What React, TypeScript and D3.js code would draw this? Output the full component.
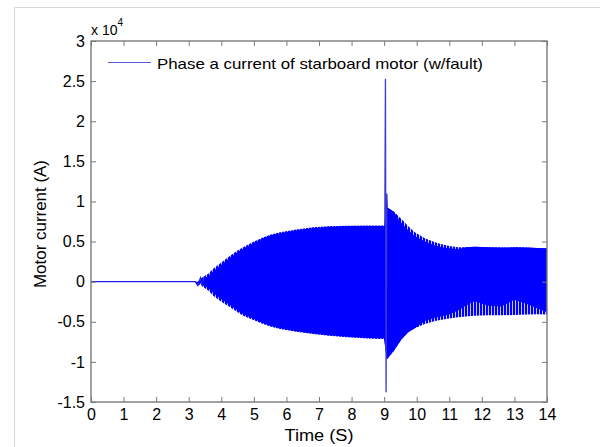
import React, { useEffect, useRef } from "react";
import * as d3 from "d3";

// envelope of the phase-a current (A)
const timeS = [0, 3.2, 3.28, 3.36, 3.45, 3.6, 3.75, 4.0, 4.27, 4.5, 4.67, 5.0, 5.28, 5.5, 5.8, 6.3, 6.82, 7.3, 7.86, 8.5, 9.0, 9.08, 9.3, 9.53, 9.74, 9.94, 10.25, 10.56, 10.77, 11.0, 11.27, 11.5, 11.78, 12.2, 12.6, 13.0, 13.4, 13.7, 14];
const upperA = [0, 0, 0, 400, 600, 1000, 1600, 2400, 3240, 3900, 4280, 5000, 5520, 5850, 6150, 6500, 6770, 6900, 6980, 7000, 7000, 9300, 8700, 7800, 6900, 6150, 5400, 4900, 4650, 4450, 4300, 4300, 4360, 4300, 4250, 4280, 4250, 4200, 4150];
const lowerA = [0, 0, -500, -300, -700, -1100, -1750, -2500, -3200, -3800, -4240, -4800, -5280, -5600, -5900, -6250, -6520, -6750, -6940, -7080, -7150, -9700, -8600, -7200, -6320, -5800, -5280, -4900, -4740, -4600, -4450, -4350, -4250, -4200, -4200, -4150, -4100, -4050, -4100];
// where the oscillation is dense enough to look solid
const upperSolidA = [0, 0, 0, 300, 400, 700, 1300, 2100, 3000, 3700, 4100, 4850, 5400, 5750, 6050, 6420, 6700, 6840, 6930, 6950, 6950, 9300, 8700, 7300, 6400, 5700, 5000, 4500, 4300, 4150, 4050, 4300, 4360, 4300, 4250, 4280, 4250, 4200, 4150];
const lowerSolidA = [0, 0, -500, -200, -500, -800, -1400, -2200, -2950, -3600, -4050, -4650, -5150, -5500, -5820, -6180, -6450, -6690, -6880, -7020, -7100, -9700, -8600, -7200, -6320, -5800, -4900, -4500, -4300, -4100, -3600, -3000, -2450, -3000, -3100, -2250, -2800, -3300, -3800];

// the small wiggle at start-up and the fault transient
const onsetTime = [0, 3.2, 3.28, 3.36, 3.42, 3.48];
const onsetA = [0, 0, -500, 500, -600, 700];
const faultTime = [9.02, 9.04, 9.06, 9.08, 9.1];
const faultA = [7000, 25300, -13800, 11000, 9300];

const xTicks = [0, 1, 2, 3, 4, 5, 6, 7, 8, 9, 10, 11, 12, 13, 14];
const yTicks = [-15000, -10000, -5000, 0, 5000, 10000, 15000, 20000, 25000, 30000];

const legendLabel = "Phase a current of starboard motor (w/fault)";
const FONT = "'Liberation Sans', Arial, Helvetica, sans-serif";

const W = 600;
const H = 447;
const margin = { left: 91, right: 53, top: 41, bottom: 45 };

const App = () => {
  const svgRef = useRef<SVGSVGElement>(null);

  useEffect(() => {
    const svg = d3.select(svgRef.current);
    svg.selectAll("*").remove();

    const x = d3.scaleLinear().domain([0, 14]).range([margin.left, W - margin.right]);
    const y = d3.scaleLinear().domain([-15000, 30000]).range([H - margin.bottom, margin.top]);

    // faint frame of the screenshot
    svg.append("path")
      .attr("d", `M14.5,${H}V7.5H${W}`)
      .attr("fill", "none")
      .attr("stroke", "#d6d6d6");

    const defs = svg.append("defs");
    const pat = defs.append("pattern")
      .attr("id", "stripes")
      .attr("patternUnits", "userSpaceOnUse")
      .attr("width", 3)
      .attr("height", 10);
    pat.append("rect").attr("width", 3).attr("height", 10).attr("fill", "#c4c6ef");
    pat.append("rect").attr("width", 2).attr("height", 10).attr("fill", "#0000ff");

    const idx = d3.range(timeS.length);

    const outer = d3.area<number>()
      .x((i) => x(timeS[i]))
      .y0((i) => y(lowerA[i]))
      .y1((i) => y(upperA[i]));
    const solid = d3.area<number>()
      .x((i) => x(timeS[i]))
      .y0((i) => y(lowerSolidA[i]))
      .y1((i) => y(upperSolidA[i]));

    svg.append("path").attr("d", outer(idx)).attr("fill", "url(#stripes)");
    svg.append("path").attr("d", solid(idx)).attr("fill", "#0000ff");

    const line = d3.line<number>();
    svg.append("path")
      .attr("d", line(onsetTime.map((t, i) => [x(t), y(onsetA[i])])))
      .attr("fill", "none")
      .attr("stroke", "#2020ee")
      .attr("stroke-width", 1.2);
    svg.append("path")
      .attr("d", line(faultTime.map((t, i) => [x(t), y(faultA[i])])))
      .attr("fill", "none")
      .attr("stroke", "#3a3ad8")
      .attr("stroke-width", 1.3);

    // axes, MATLAB style: ticks inside on all four sides
    const axisColor = "#7a7a7a";
    const styleAxis = (g) => {
      g.select(".domain").remove();
      g.selectAll("line").attr("stroke", axisColor);
      g.selectAll("text")
        .attr("fill", "#000")
        .style("font-family", FONT)
        .style("font-size", "16px");
    };

    svg.append("g")
      .attr("transform", `translate(0,${H - margin.bottom})`)
      .call(d3.axisBottom(x).tickValues(xTicks).tickSize(-5).tickPadding(7).tickFormat((d) => String(d)))
      .call(styleAxis);
    svg.append("g")
      .attr("transform", `translate(0,${margin.top})`)
      .call(d3.axisTop(x).tickValues(xTicks).tickSize(-5).tickFormat(() => ""))
      .call(styleAxis);
    svg.append("g")
      .attr("transform", `translate(${margin.left},0)`)
      .call(d3.axisLeft(y).tickValues(yTicks).tickSize(-5).tickPadding(6).tickFormat((d) => String(+d / 10000)))
      .call(styleAxis);
    svg.append("g")
      .attr("transform", `translate(${W - margin.right},0)`)
      .call(d3.axisRight(y).tickValues(yTicks).tickSize(-5).tickFormat(() => ""))
      .call(styleAxis);

    svg.append("rect")
      .attr("x", margin.left)
      .attr("y", margin.top)
      .attr("width", W - margin.right - margin.left)
      .attr("height", H - margin.bottom - margin.top)
      .attr("fill", "none")
      .attr("stroke", axisColor)
      .attr("stroke-width", 1.4);

    // exponent label
    const expo = svg.append("text")
      .attr("x", 91)
      .attr("y", 34.5)
      .style("font-family", FONT)
      .style("font-size", "14px");
    expo.append("tspan").text("x 10");
    expo.append("tspan").attr("dy", -9).style("font-size", "10px").text("4");

    // legend
    svg.append("line")
      .attr("x1", 108).attr("x2", 151)
      .attr("y1", 62.5).attr("y2", 62.5)
      .attr("stroke", "#5a5ad8")
      .attr("stroke-width", 1);
    svg.append("text")
      .attr("x", 157)
      .attr("y", 68.5)
      .attr("textLength", 326)
      .attr("lengthAdjust", "spacingAndGlyphs")
      .style("font-family", FONT)
      .style("font-size", "15px")
      .text(legendLabel);

    // axis titles
    svg.append("text")
      .attr("x", (margin.left + W - margin.right) / 2)
      .attr("y", 441)
      .attr("text-anchor", "middle")
      .attr("textLength", 69)
      .attr("lengthAdjust", "spacingAndGlyphs")
      .style("font-family", FONT)
      .style("font-size", "16px")
      .text("Time (S)");
    svg.append("text")
      .attr("transform", `translate(46,224) rotate(-90)`)
      .attr("text-anchor", "middle")
      .attr("textLength", 128)
      .attr("lengthAdjust", "spacingAndGlyphs")
      .style("font-family", FONT)
      .style("font-size", "16px")
      .text("Motor current (A)");
  }, []);

  return (
    <svg
      ref={svgRef}
      width={W}
      height={H}
      style={{ position: "absolute", left: 0, top: 0, background: "#fff" }}
    ></svg>
  );
};

export default App;
